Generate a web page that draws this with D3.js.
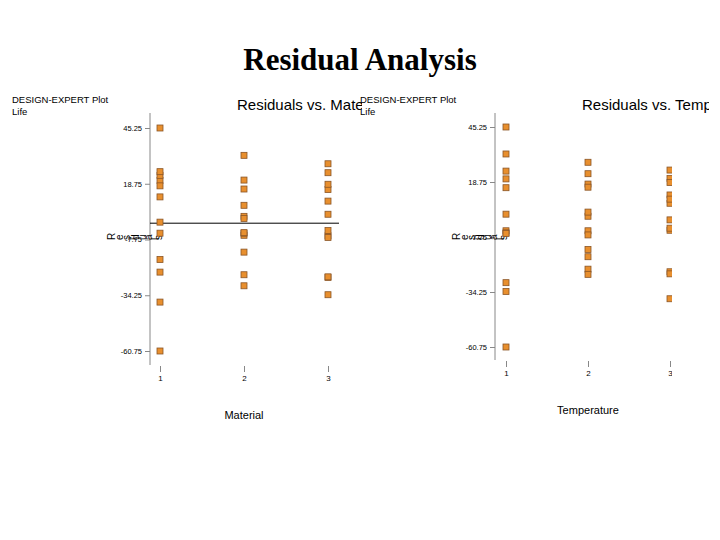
<!DOCTYPE html>
<html>
<head>
<meta charset="utf-8">
<script src="https://cdn.jsdelivr.net/npm/d3@7"></script>
<style>
    body { margin: 0; background: #fff; }
    svg { display: block; font-family: "Liberation Sans", Arial, sans-serif; }
</style>
</head>
<body>
<div id="chart"></div>
<script>
// residuals for each material, 4 replicates at temperature level 1, then 2, then 3
const material1 = [-4.75, 20.25, -60.75, 45.25, -23.25, -17.25, 22.75, 17.75, -37.5, 12.5, 24.5, 0.5];
const material2 = [-5.75, 32.25, 3.25, -29.75, 16.25, 2.25, -13.75, -4.75, -24.5, 20.5, 8.5, -4.5];
const material3 = [-6, -34, 24, 16, 28.25, -25.75, 4.25, -6.75, 10.5, 18.5, -3.5, -25.5];
const levels = ["1", "2", "3"];
const yTicks = [45.25, 18.75, -7.75, -34.25, -60.75];

// flatten to rows of {material, temp, r}
const rows = [];
[material1, material2, material3].forEach((arr, m) => {
    arr.forEach((r, i) => rows.push({ material: levels[m], temp: levels[Math.floor(i / 4)], r: r }));
});

const svg = d3.select("#chart").append("svg")
    .attr("width", 720)
    .attr("height", 540);

// slide title
svg.append("text")
    .attr("x", 360)
    .attr("y", 70)
    .attr("text-anchor", "middle")
    .attr("font-family", "'Liberation Serif', 'Times New Roman', serif")
    .attr("font-weight", "bold")
    .attr("font-size", "31px")
    .text("Residual Analysis");

function drawPanel(p) {
    const g = svg.append("g");

    g.append("clipPath").attr("id", p.id + "-clip")
        .append("rect")
        .attr("x", p.left).attr("y", 0)
        .attr("width", p.right - p.left).attr("height", 540);
    g.append("clipPath").attr("id", p.id + "-plotclip")
        .append("rect")
        .attr("x", p.left).attr("y", 0)
        .attr("width", p.plotRight - p.left).attr("height", 540);

    const inner = g.append("g").attr("clip-path", `url(#${p.id}-clip)`);

    inner.append("text")
        .attr("x", p.left + 2).attr("y", 103)
        .attr("font-size", "9.5px")
        .text("DESIGN-EXPERT Plot");
    inner.append("text")
        .attr("x", p.left + 2).attr("y", 115)
        .attr("font-size", "9.5px")
        .text("Life");

    inner.append("text")
        .attr("x", p.titleX).attr("y", 110)
        .attr("font-size", "15px")
        .text(p.title);

    const y = d3.scaleLinear().domain([-60.75, 45.25]).range([p.yBottom, p.yTop]);
    const x = d3.scalePoint().domain(levels).range([p.x1, p.x3]);

    // vertical axis line
    inner.append("line")
        .attr("x1", p.axisX).attr("x2", p.axisX)
        .attr("y1", p.lineTop).attr("y2", p.lineBottom)
        .attr("stroke", "#888").attr("stroke-width", 1);

    const yAxis = inner.append("g")
        .attr("transform", `translate(${p.axisX},0)`)
        .call(d3.axisLeft(y).tickValues(yTicks).tickSize(5).tickPadding(3).tickFormat(d => d.toFixed(2)));
    yAxis.select(".domain").remove();
    yAxis.selectAll("line").attr("stroke", "#888");
    yAxis.selectAll("text").attr("font-size", "7.5px").attr("font-family", "'Liberation Sans', Arial, sans-serif");

    const plot = g.append("g").attr("clip-path", `url(#${p.id}-plotclip)`);

    const xAxis = plot.append("g")
        .attr("transform", `translate(0,${p.lineBottom + 1})`)
        .call(d3.axisBottom(x).tickSize(6).tickPadding(3));
    xAxis.select(".domain").remove();
    xAxis.selectAll("line").attr("stroke", "#888");
    xAxis.selectAll("text").attr("font-size", "8px").attr("font-family", "'Liberation Sans', Arial, sans-serif");

    // y label, glyphs turned individually
    inner.append("text")
        .attr("x", p.axisX - 35).attr("y", p.labelY)
        .attr("font-size", "10px")
        .attr("rotate", -90)
        .attr("letter-spacing", "1px")
        .text("Residuals");

    inner.append("text")
        .attr("x", (p.x1 + p.x3) / 2).attr("y", p.xLabelY)
        .attr("text-anchor", "middle")
        .attr("font-size", "11px")
        .text(p.xLabel);

    if (p.zeroLine) {
        inner.append("line")
            .attr("x1", p.axisX).attr("x2", p.zeroEnd)
            .attr("y1", y(0)).attr("y2", y(0))
            .attr("stroke", "#000").attr("stroke-width", 1);
    }

    plot.selectAll("rect.pt")
        .data(rows)
        .join("rect")
        .attr("class", "pt")
        .attr("x", d => x(d[p.key]) - 3)
        .attr("y", d => y(d.r) - 3)
        .attr("width", 6)
        .attr("height", 6)
        .attr("fill", "#e88f2e")
        .attr("stroke", "#8a5526")
        .attr("stroke-width", 0.8);
}

drawPanel({
    id: "mat", key: "material", left: 10, right: 362, plotRight: 362,
    title: "Residuals vs. Material", titleX: 237,
    axisX: 150, lineTop: 113, lineBottom: 365, yTop: 128, yBottom: 351,
    x1: 160, x3: 328, labelY: 240, xLabel: "Material", xLabelY: 419,
    zeroLine: true, zeroEnd: 339
});

drawPanel({
    id: "temp", key: "temp", left: 358, right: 709, plotRight: 672,
    title: "Residuals vs. Temperature", titleX: 582,
    axisX: 495, lineTop: 113, lineBottom: 360, yTop: 127, yBottom: 347,
    x1: 506, x3: 670, labelY: 240, xLabel: "Temperature", xLabelY: 414,
    zeroLine: false
});
</script>
</body>
</html>
